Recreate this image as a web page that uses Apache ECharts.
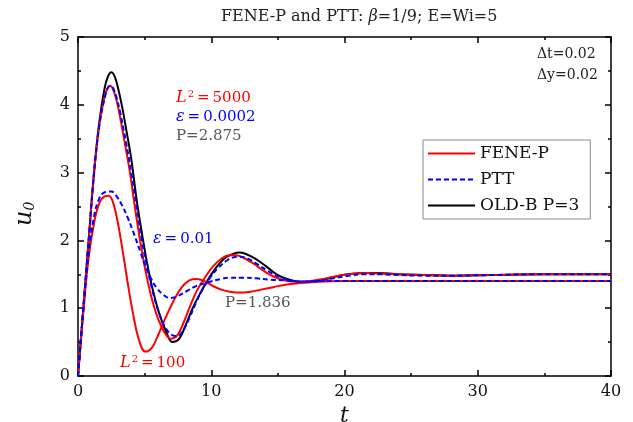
<!DOCTYPE html>
<html>
<head>
<meta charset="utf-8">
<script src="https://cdn.jsdelivr.net/npm/echarts@6/dist/echarts.min.js"></script>
<style>
  html, body { margin: 0; padding: 0; background: #fff; }
  #chart { width: 633px; height: 422px; }
</style>
</head>
<body>
<div id="chart"></div>
<script>
// values
const xTicks = [0, 10, 20, 30, 40];
const yTicks = [0, 1, 2, 3, 4, 5];

// OLD-B, P=3 (black)
const tOldB = [0, 0.4, 0.8, 1.2, 1.6, 2.0, 2.25, 2.5, 2.75, 3.0, 3.3, 3.65, 4.0, 4.4, 4.8, 5.2, 5.6, 6.1, 6.6, 7.1, 7.6, 8.1, 8.65, 9.2, 9.75, 10.3, 10.9, 11.5, 12.05, 12.6, 13.3, 14.1, 14.9, 15.7, 16.6, 17.6, 18.6, 19.6, 20.6, 21.6, 22.6, 24, 26, 28, 31, 35, 40];
const uOldB = [0, 1.0, 2.0, 3.0, 3.75, 4.25, 4.42, 4.48, 4.42, 4.25, 3.98, 3.6, 3.2, 2.6, 2.1, 1.65, 1.28, 0.92, 0.66, 0.5, 0.55, 0.76, 1.02, 1.23, 1.42, 1.58, 1.72, 1.79, 1.82, 1.8, 1.73, 1.62, 1.5, 1.43, 1.39, 1.39, 1.43, 1.48, 1.51, 1.52, 1.52, 1.5, 1.49, 1.48, 1.49, 1.5, 1.5];

// FENE-P, L^2 = 5000 (red)
const tFene5000 = [0, 0.4, 0.8, 1.2, 1.6, 2.0, 2.2, 2.4, 2.6, 2.85, 3.1, 3.5, 3.9, 4.3, 4.7, 5.1, 5.5, 6.0, 6.5, 6.95, 7.45, 7.95, 8.45, 8.95, 9.55, 10.15, 10.75, 11.35, 11.85, 12.45, 13.15, 13.95, 14.75, 15.55, 16.45, 17.45, 18.6, 19.6, 20.6, 21.6, 22.6, 24, 26, 28, 31, 35, 40];
const uFene5000 = [0, 1.0, 2.0, 2.98, 3.7, 4.12, 4.24, 4.28, 4.24, 4.1, 3.88, 3.45, 3.0, 2.45, 1.95, 1.52, 1.17, 0.85, 0.64, 0.55, 0.6, 0.8, 1.05, 1.27, 1.46, 1.62, 1.73, 1.78, 1.78, 1.74, 1.66, 1.55, 1.46, 1.41, 1.39, 1.4, 1.44, 1.48, 1.51, 1.52, 1.51, 1.5, 1.49, 1.48, 1.49, 1.5, 1.5];

// FENE-P, L^2 = 100 (red)
const tFene100 = [0, 0.4, 0.8, 1.2, 1.6, 2.0, 2.3, 2.6, 2.95, 3.35, 3.75, 4.15, 4.55, 5.05, 5.55, 6.05, 6.55, 7.15, 7.75, 8.35, 8.9, 9.5, 10.1, 10.8, 11.5, 12.15, 12.85, 13.65, 14.65, 15.65, 16.65, 18, 20, 23, 27, 32, 40];
const uFene100 = [0, 0.95, 1.75, 2.25, 2.55, 2.65, 2.66, 2.58, 2.3, 1.85, 1.35, 0.9, 0.55, 0.36, 0.42, 0.62, 0.85, 1.1, 1.3, 1.41, 1.43, 1.4, 1.33, 1.27, 1.24, 1.23, 1.24, 1.27, 1.31, 1.35, 1.37, 1.39, 1.4, 1.4, 1.4, 1.4, 1.4];

// PTT, eps = 0.0002 (blue dashed)
const tPtt0002 = [0, 0.4, 0.8, 1.2, 1.6, 2.05, 2.25, 2.45, 2.65, 2.9, 3.15, 3.6, 4.0, 4.4, 4.8, 5.2, 5.6, 6.1, 6.6, 7.1, 7.45, 7.85, 8.35, 8.85, 9.35, 9.95, 10.55, 11.15, 11.65, 12.15, 12.75, 13.45, 14.25, 15.15, 16.05, 16.95, 17.95, 19.15, 20.35, 21.45, 22.65, 24, 26, 28, 31, 35, 40];
const uPtt0002 = [0, 1.0, 2.0, 2.98, 3.7, 4.14, 4.25, 4.28, 4.24, 4.1, 3.9, 3.45, 3.0, 2.5, 2.0, 1.6, 1.25, 0.92, 0.7, 0.6, 0.59, 0.66, 0.85, 1.08, 1.28, 1.46, 1.6, 1.7, 1.75, 1.76, 1.73, 1.65, 1.55, 1.46, 1.41, 1.39, 1.4, 1.44, 1.48, 1.5, 1.5, 1.49, 1.48, 1.48, 1.49, 1.5, 1.5];

// PTT, eps = 0.01 (blue dashed)
const tPtt01 = [0, 0.4, 0.8, 1.2, 1.6, 2.0, 2.5, 2.9, 3.3, 3.7, 4.1, 4.7, 5.1, 5.45, 5.9, 6.4, 6.9, 7.5, 8.15, 8.9, 9.9, 10.7, 11.4, 12.4, 13.4, 14.4, 15.6, 16.9, 18, 20, 23, 27, 32, 40];
const uPtt01 = [0, 0.98, 1.8, 2.35, 2.62, 2.71, 2.72, 2.65, 2.52, 2.35, 2.15, 1.82, 1.6, 1.45, 1.3, 1.2, 1.15, 1.18, 1.25, 1.33, 1.39, 1.43, 1.45, 1.45, 1.44, 1.42, 1.41, 1.39, 1.4, 1.4, 1.4, 1.4, 1.4, 1.4];

const pairs = (t, u) => t.map((v, i) => [v, u[i]]);

const SERIF = "'DejaVu Serif', 'Liberation Serif', serif";
const RED = "#ff0000";
const BLUE = "#0000ff";
const GREY = "#555555";

let chart = echarts.init(document.getElementById("chart"));

const lineSeries = (name, data, color, dashed, z) => ({
  name: name,
  type: "line",
  data: data,
  smooth: 0.4,
  showSymbol: false,
  symbol: "none",
  z: z,
  lineStyle: { color: color, width: 2, type: dashed ? [5, 3] : "solid" },
  itemStyle: { color: color },
});

const axisCommon = {
  axisLine: { show: true, onZero: false, lineStyle: { color: "#000", width: 1.5 } },
  axisTick: { show: true, inside: true, length: 6, lineStyle: { color: "#000", width: 1.5 } },
  minorTick: { show: true, splitNumber: 2, length: 3, lineStyle: { color: "#000", width: 1.5 } },
  splitLine: { show: false },
  minorSplitLine: { show: false },
};

// rich-text label: italic symbol, optional superscript, plain rest
const mathLabel = (x, y, sym, sup, rest, color) => ({
  type: "text", left: x, top: y,
  style: {
    text: "{i|" + sym + "}" + (sup ? "{s|" + sup + "}" : "") + "{n|" + rest + "}",
    rich: {
      i: { fontFamily: SERIF, fontSize: 16, fontStyle: "italic", fill: color },
      s: { fontFamily: SERIF, fontSize: 10, fill: color, verticalAlign: "top", padding: [0, 0, 8, 1] },
      n: { fontFamily: SERIF, fontSize: 15, fill: color },
    },
  },
});

const option = {
  animation: false,
  title: {
    text: "FENE-P and PTT: {i|β}=1/9; E=Wi=5",
    left: 216,
    top: 4,
    textStyle: {
      fontFamily: SERIF,
      fontSize: 16,
      fontWeight: "normal",
      color: "#222",
      rich: { i: { fontFamily: SERIF, fontSize: 16, fontStyle: "italic", color: "#222" } },
    },
  },
  grid: { left: 78, right: 22, top: 37, bottom: 46, outerBoundsMode: "none" },
  legend: {
    orient: "vertical",
    left: 423,
    top: 140,
    data: ["FENE-P", "PTT", "OLD-B P=3"],
    borderColor: "#888",
    borderWidth: 1,
    padding: [5, 11, 5, 4],
    itemWidth: 47,
    itemHeight: 14,
    itemGap: 9,
    itemStyle: { opacity: 0 },
    textStyle: { fontFamily: SERIF, fontSize: 17, color: "#111" },
  },
  xAxis: [
    Object.assign({
      type: "value", min: 0, max: 40, interval: 10,
      name: "t", nameLocation: "middle", nameGap: 28,
      nameTextStyle: { fontFamily: SERIF, fontSize: 22, fontStyle: "italic", color: "#111" },
      axisLabel: {
        fontFamily: SERIF, fontSize: 16, color: "#111", margin: 8,
        formatter: (v) => (xTicks.includes(v) ? String(v) : ""),
      },
    }, axisCommon),
    Object.assign({
      type: "value", min: 0, max: 40, interval: 10, position: "top",
      axisLabel: { show: false },
    }, axisCommon),
  ],
  yAxis: [
    Object.assign({
      type: "value", min: 0, max: 5, interval: 1,
      axisLabel: {
        fontFamily: SERIF, fontSize: 16, color: "#111", margin: 8,
        formatter: (v) => (yTicks.includes(v) ? String(v) : ""),
      },
    }, axisCommon),
    Object.assign({
      type: "value", min: 0, max: 5, interval: 1, position: "right",
      axisLabel: { show: false },
    }, axisCommon),
  ],
  graphic: [
    {
      type: "text", x: 13, y: 226, rotation: Math.PI / 2,
      style: {
        text: "{u|u}{s|0}",
        rich: {
          u: { fontFamily: SERIF, fontSize: 24, fontStyle: "italic", fill: "#111" },
          s: { fontFamily: SERIF, fontSize: 14, fontStyle: "italic", fill: "#111", verticalAlign: "bottom" },
        },
      },
    },
    { type: "text", left: 537, top: 47, style: { text: "Δt=0.02", font: "14px " + SERIF, fill: "#222" } },
    { type: "text", left: 537, top: 68, style: { text: "Δy=0.02", font: "14px " + SERIF, fill: "#222" } },
    mathLabel(176, 89, "L", "2", "\u2009=\u20095000", RED),
    mathLabel(176, 109, "ε", "", "\u2009=\u20090.0002", BLUE),
    { type: "text", left: 176, top: 129, style: { text: "P=2.875", font: "15px " + SERIF, fill: GREY } },
    mathLabel(153, 231, "ε", "", "\u2009=\u20090.01", BLUE),
    { type: "text", left: 225, top: 296, style: { text: "P=1.836", font: "15px " + SERIF, fill: GREY } },
    mathLabel(120, 354, "L", "2", "\u2009=\u2009100", RED),
  ],
  series: [
    lineSeries("OLD-B P=3", pairs(tOldB, uOldB), "#000000", false, 2),
    lineSeries("FENE-P", pairs(tFene5000, uFene5000), RED, false, 3),
    lineSeries("FENE-P", pairs(tFene100, uFene100), RED, false, 3),
    lineSeries("PTT", pairs(tPtt0002, uPtt0002), BLUE, true, 4),
    lineSeries("PTT", pairs(tPtt01, uPtt01), BLUE, true, 4),
  ],
};

chart.setOption(option);
</script>
</body>
</html>
